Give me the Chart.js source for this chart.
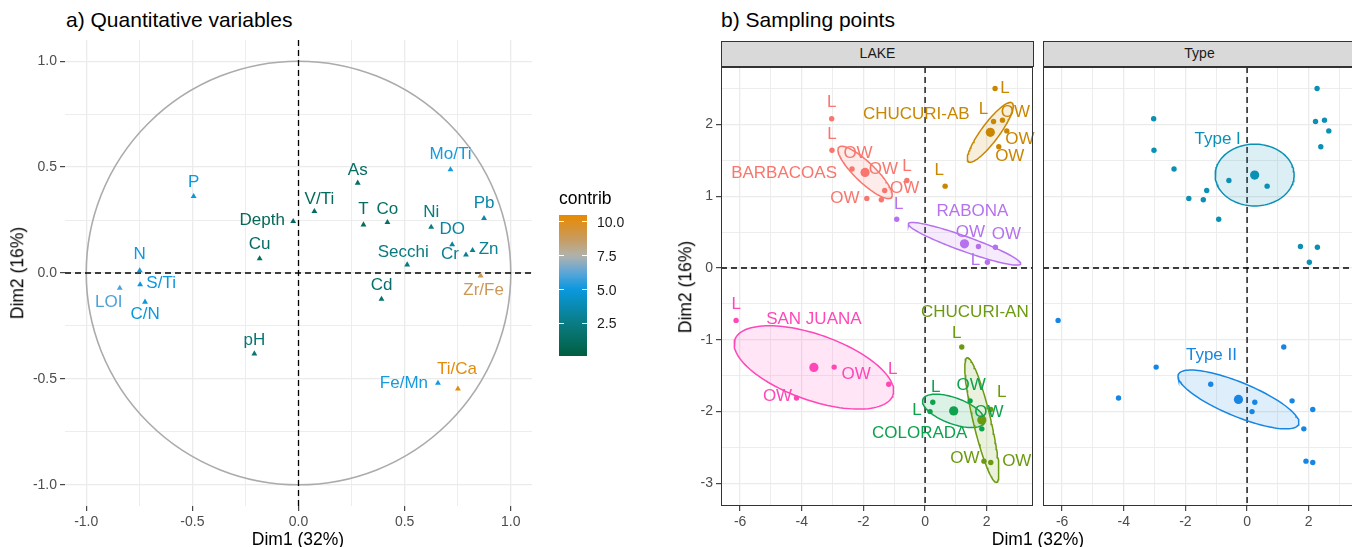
<!DOCTYPE html>
<html>
<head>
<meta charset="utf-8">
<title>PCA - variables and sampling points</title>
<script src="https://cdn.jsdelivr.net/npm/chart.js@4.4.1/dist/chart.umd.min.js"></script>
<style>
  html, body { margin: 0; padding: 0; background: #fff; }
  body { width: 1352px; height: 547px; overflow: hidden; position: relative;
         font-family: "Liberation Sans", Arial, Helvetica, sans-serif; }
  canvas, .txt, .strip, .bar { position: absolute; }
  .txt { white-space: nowrap; color: #000; line-height: 1; }
  .mid { transform: translate(-50%, -50%); }
  .rot { transform: translate(-50%, -50%) rotate(-90deg); }
  .strip { box-sizing: border-box; background: #D9D9D9; border: 1px solid #333;
           color: #1A1A1A; font-size: 14px; line-height: 23px; text-align: center; }
</style>
</head>
<body>
<div class="txt" style="left:66px;top:9px;font-size:21px">a) Quantitative variables</div>
<div class="txt" style="left:721px;top:9px;font-size:21px">b) Sampling points</div>

<canvas id="varChart" width="545" height="547" style="left:0;top:0"></canvas>
<canvas id="lakeChart" width="440" height="547" style="left:600px;top:0"></canvas>
<canvas id="typeChart" width="330" height="547" style="left:1036px;top:0"></canvas>

<div class="strip" style="left:721px;top:41px;width:313px;height:26px">LAKE</div>
<div class="strip" style="left:1043px;top:41px;width:313px;height:26px">Type</div>

<div class="txt mid" style="left:298px;top:540px;font-size:17.5px">Dim1 (32%)</div>
<div class="txt rot" style="left:18px;top:273px;font-size:17.5px">Dim2 (16%)</div>
<div class="txt mid" style="left:1038px;top:540px;font-size:17.5px">Dim1 (32%)</div>
<div class="txt rot" style="left:686px;top:287px;font-size:17.5px">Dim2 (16%)</div>

<div class="txt" style="left:559px;top:190px;font-size:17.5px">contrib</div>
<div id="legend"></div>

<script>
Chart.defaults.font.family = '"Liberation Sans", Arial, Helvetica, sans-serif';
Chart.defaults.animation = false;

// ---- a) variables on the correlation circle ----
const varNames = ['P', 'N', 'S/Ti', 'LOI', 'C/N', 'Depth', 'V/Ti', 'Cu', 'pH', 'As', 'T', 'Co',
                  'Ni', 'DO', 'Cr', 'Zn', 'Pb', 'Mo/Ti', 'Secchi', 'Cd', 'Zr/Fe', 'Fe/Mn', 'Ti/Ca'];
const varDim1 = [-0.494, -0.748, -0.746, -0.842, -0.723, -0.025, 0.075, -0.183, -0.208, 0.279, 0.306, 0.419,
                 0.625, 0.724, 0.789, 0.820, 0.874, 0.716, 0.512, 0.391, 0.858, 0.657, 0.751];
const varDim2 = [0.362, 0.011, -0.055, -0.071, -0.137, 0.244, 0.291, 0.068, -0.381, 0.425, 0.228, 0.239,
                 0.217, 0.134, 0.086, 0.107, 0.258, 0.488, 0.039, -0.123, -0.013, -0.520, -0.547];
const varContrib = [5.0, 5.1, 5.0, 6.0, 5.0, 1.0, 1.1, 1.3, 2.0, 1.4, 1.2, 1.5,
                    2.4, 3.3, 2.8, 3.0, 3.5, 5.2, 2.3, 1.6, 8.9, 5.2, 10.3];
const circleTicks = [-1, -0.5, 0, 0.5, 1];
const contribTicks = [2.5, 5, 7.5, 10];
const contribRange = [0.1, 10.5];

// ---- b) sampling points ----
const lakes = ['BARBACOAS', 'CHUCURI-AB', 'CHUCURI-AN', 'COLORADA', 'RABONA', 'SAN JUANA'];
const lakeType = ['Type I', 'Type I', 'Type II', 'Type II', 'Type I', 'Type II'];
const types = ['Type I', 'Type II'];

const sampleLake = ['BARBACOAS', 'BARBACOAS', 'BARBACOAS', 'BARBACOAS', 'BARBACOAS', 'BARBACOAS', 'BARBACOAS',
                    'CHUCURI-AB', 'CHUCURI-AB', 'CHUCURI-AB', 'CHUCURI-AB', 'CHUCURI-AB', 'CHUCURI-AB',
                    'RABONA', 'RABONA', 'RABONA', 'RABONA',
                    'SAN JUANA', 'SAN JUANA', 'SAN JUANA', 'SAN JUANA',
                    'CHUCURI-AN', 'CHUCURI-AN', 'CHUCURI-AN', 'CHUCURI-AN',
                    'COLORADA', 'COLORADA', 'COLORADA', 'COLORADA'];
const sampleSite = ['L', 'L', 'OW', 'OW', 'L', 'OW', 'OW',
                    'L', 'L', 'OW', 'OW', 'OW', 'L',
                    'L', 'OW', 'OW', 'L',
                    'L', 'OW', 'L', 'OW',
                    'L', 'L', 'OW', 'OW',
                    'L', 'L', 'OW', 'OW'];
const sampleDim1 = [-3.03, -3.02, -2.37, -1.31, -0.59, -1.89, -1.42,
                    2.27, 2.22, 2.51, 2.65, 2.39, 0.65,
                    -0.92, 1.73, 2.28, 2.02,
                    -6.13, -2.95, -1.18, -4.17,
                    1.19, 2.13, 1.91, 2.13,
                    0.25, 0.16, 1.84, 1.46];
const sampleDim2 = [2.08, 1.64, 1.38, 1.08, 1.22, 0.97, 0.95,
                    2.50, 2.04, 2.06, 1.91, 1.69, 1.14,
                    0.68, 0.30, 0.29, 0.08,
                    -0.73, -1.38, -1.62, -1.81,
                    -1.10, -1.97, -2.69, -2.71,
                    -1.87, -2.00, -2.24, -1.85];

// concentration ellipses: two conjugate semi-axes in Dim1/Dim2 units, centred on the group mean
const lakeEllipseA = [[0.85, -0.35], [0.707, 0.41], [0.477, -0.868], [1.0, -0.16], [1.82, -0.28], [2.56, -0.39]];
const lakeEllipseB = [[0.227, 0.10], [0.234, -0.074], [0.278, 0.028], [0.149, 0.169], [0.081, 0.098], [0.363, 0.43]];
const typeEllipseA = [[1.28, 0.0], [1.95, -0.347]];
const typeEllipseB = [[0.0, 0.43], [0.21, 0.218]];

const dimXTicks = [-6, -4, -2, 0, 2];
const dimYTicks = [-3, -2, -1, 0, 1, 2];

// ---- styling ----
const contribStops = [[0.1, '#005E41'], [2.5, '#0A7C83'], [5, '#0A98DE'], [6.3, '#5FA6D8'],
                      [7.5, '#B2B2AC'], [8.8, '#C99A5C'], [10.5, '#E88A00']];
const lakeColors = ['#F8766D', '#C98600', '#6B9A0F', '#0DA24E', '#B672EE', '#FF47B8'];
const typeColors = ['#0A90B4', '#1786E3'];

// pixel nudges for the text labels (kept apart from the values)
const varLabelShift = [[0, -14], [0, -16], [21, -1], [-11, 14], [0, 12], [-31, -1], [5, -12], [0, -14],
                       [0, -13], [0, -13], [0, -15], [0, -13], [0, -15], [0, -15], [-16, 0], [16, -1],
                       [0, -15], [0, -15], [-4, -12], [0, -14], [3, 15], [-34, 0], [-1, -20]];
const sampleLabelShift = [[0, -16], [0, -16], [6, -16], [20, -2], [0, -14], [-22, 0], [2, -31],
                          [10, 0], [-10, -12], [13, -8], [13, 8], [11, 10], [-6, -16],
                          [2, -15], [-8, -14], [11, -13], [-12, -2],
                          [0, -16], [22, 7], [4, -15], [-19, -2],
                          [-5, -14], [11, -17], [-19, -3], [26, -1],
                          [3, -15], [-13, -1], [7, -17], [1, -16]];
const lakeLabelShift = [[-81, 1], [-74, -18], [-7, -108], [-34, 22], [8, -32], [0, -48]];
const typeLabelShift = [[-37, -36], [-27, -44]];

function hexRgb(h) {
  return [parseInt(h.slice(1, 3), 16), parseInt(h.slice(3, 5), 16), parseInt(h.slice(5, 7), 16)];
}
function rgba(h, a) {
  const c = hexRgb(h);
  return `rgba(${c[0]},${c[1]},${c[2]},${a})`;
}
function contribColor(v) {
  let i = 0;
  while (i < contribStops.length - 2 && v > contribStops[i + 1][0]) i++;
  const [v0, c0] = contribStops[i], [v1, c1] = contribStops[i + 1];
  const t = Math.max(0, Math.min(1, (v - v0) / (v1 - v0)));
  const a = hexRgb(c0), b = hexRgb(c1);
  return `rgb(${a.map((x, k) => Math.round(x + (b[k] - x) * t)).join(',')})`;
}

const isMajor = (list, v) => list.some(t => Math.abs(t - v) < 1e-9);

function axis(min, max, gridVals, labelVals, fmt, size, showLabels) {
  return {
    type: 'linear', min, max,
    afterBuildTicks: s => { s.ticks = gridVals.map(v => ({ value: v })); },
    afterFit: s => { if (s.isHorizontal()) s.height = size; else s.width = size; },
    border: { display: false },
    grid: {
      color: '#EBEBEB',
      lineWidth: c => (c.tick && isMajor(labelVals, c.tick.value)) ? 1.3 : 0.9,
      drawTicks: showLabels,
      tickLength: 5,
      tickWidth: 1.1,
      tickColor: c => (c.tick && isMajor(labelVals, c.tick.value)) ? '#333333' : 'rgba(0,0,0,0)'
    },
    ticks: {
      display: showLabels,
      autoSkip: false, maxRotation: 0, padding: 3,
      color: '#4D4D4D', font: { size: 14 },
      callback: v => isMajor(labelVals, v) ? fmt(v) : ''
    }
  };
}

// dashed reference lines through the origin
const originLines = {
  id: 'originLines',
  beforeDatasetsDraw(chart) {
    const { ctx, chartArea: a, scales: { x, y } } = chart;
    const x0 = x.getPixelForValue(0), y0 = y.getPixelForValue(0);
    ctx.save();
    ctx.strokeStyle = '#000';
    ctx.lineWidth = 1.3;
    ctx.setLineDash([6, 4]);
    ctx.beginPath();
    ctx.moveTo(x0, a.top); ctx.lineTo(x0, a.bottom);
    ctx.moveTo(a.left, y0); ctx.lineTo(a.right, y0);
    ctx.stroke();
    ctx.restore();
  }
};

const panelBorder = {
  id: 'panelBorder',
  afterDatasetsDraw(chart) {
    const { ctx, chartArea: a } = chart;
    ctx.save();
    ctx.strokeStyle = '#333333';
    ctx.lineWidth = 1;
    ctx.strokeRect(a.left + 0.5, a.top + 0.5, a.width - 1, a.height - 1);
    ctx.restore();
  }
};

function textLabels(items) {
  return {
    id: 'textLabels',
    afterDatasetsDraw(chart) {
      const { ctx, scales: { x, y } } = chart;
      ctx.save();
      ctx.font = '17px "Liberation Sans", Arial, sans-serif';
      ctx.textAlign = 'center';
      ctx.textBaseline = 'middle';
      items.forEach(it => {
        ctx.fillStyle = it.color;
        ctx.fillText(it.text, x.getPixelForValue(it.x) + it.dx, y.getPixelForValue(it.y) + it.dy);
      });
      ctx.restore();
    }
  };
}

// ---------- a) correlation circle ----------
const unitCircle = {
  id: 'unitCircle',
  beforeDatasetsDraw(chart) {
    const { ctx, scales: { x, y } } = chart;
    const cx = x.getPixelForValue(0), cy = y.getPixelForValue(0);
    ctx.save();
    ctx.strokeStyle = '#ABABAB';
    ctx.lineWidth = 1.6;
    ctx.beginPath();
    ctx.ellipse(cx, cy, x.getPixelForValue(1) - cx, cy - y.getPixelForValue(1), 0, 0, 2 * Math.PI);
    ctx.stroke();
    ctx.restore();
  }
};

const varColors = varContrib.map(contribColor);
const circleGrid = [-1, -0.75, -0.5, -0.25, 0, 0.25, 0.5, 0.75, 1];

new Chart(document.getElementById('varChart'), {
  type: 'scatter',
  data: {
    datasets: [{
      data: varNames.map((n, i) => ({ x: varDim1[i], y: varDim2[i] })),
      pointStyle: 'triangle',
      pointRadius: 3.4,
      borderWidth: 0,
      backgroundColor: varColors
    }]
  },
  options: {
    responsive: false,
    layout: { padding: { top: 40, right: 13, left: 0, bottom: 0 } },
    plugins: { legend: { display: false }, tooltip: { enabled: false } },
    scales: {
      x: axis(-1.1, 1.1, circleGrid, circleTicks, v => v.toFixed(1), 41, true),
      y: axis(-1.1, 1.1, circleGrid, circleTicks, v => v.toFixed(1), 65, true)
    }
  },
  plugins: [unitCircle, originLines, textLabels(varNames.map((n, i) => ({
    text: n, x: varDim1[i], y: varDim2[i], color: varColors[i],
    dx: varLabelShift[i][0], dy: varLabelShift[i][1]
  })))]
});

// contrib colour bar
(function () {
  const top = 215, h = 141, left = 559, w = 28;
  const legend = document.getElementById('legend');
  const ypos = v => top + h * (contribRange[1] - v) / (contribRange[1] - contribRange[0]);
  const stops = [];
  for (let k = 0; k <= 40; k++) {
    const v = contribRange[1] - (contribRange[1] - contribRange[0]) * k / 40;
    stops.push(`${contribColor(v)} ${(k * 2.5).toFixed(1)}%`);
  }
  let html = `<div class="bar" style="left:${left}px;top:${top}px;width:${w}px;height:${h}px;background:linear-gradient(to bottom, ${stops.join(',')})"></div>`;
  contribTicks.forEach(v => {
    const y = ypos(v);
    html += `<div class="bar" style="left:${left}px;top:${y - 0.5}px;width:5px;height:1px;background:#fff"></div>`;
    html += `<div class="bar" style="left:${left + w - 5}px;top:${y - 0.5}px;width:5px;height:1px;background:#fff"></div>`;
    html += `<div class="txt" style="left:597px;top:${y - 7}px;font-size:14px;color:#1A1A1A">${v.toFixed(1)}</div>`;
  });
  legend.innerHTML = html;
})();

// ---------- b) sampling points, one panel per facet ----------
function ellipsePoints(c, a, b) {
  const pts = [];
  for (let k = 0; k <= 120; k++) {
    const t = 2 * Math.PI * k / 120;
    pts.push({ x: c[0] + a[0] * Math.cos(t) + b[0] * Math.sin(t),
               y: c[1] + a[1] * Math.cos(t) + b[1] * Math.sin(t) });
  }
  return pts;
}

function facet(canvasId, groups, groupOfSample, colors, ellA, ellB, groupShift, withSiteLabels, showY, pad) {
  const datasets = [];
  const labels = [];
  groups.forEach((g, gi) => {
    const idx = sampleDim1.map((v, i) => i).filter(i => groupOfSample(i) === g);
    const mean = [idx.reduce((s, i) => s + sampleDim1[i], 0) / idx.length,
                  idx.reduce((s, i) => s + sampleDim2[i], 0) / idx.length];
    const col = colors[gi];
    datasets.push({
      type: 'line', data: ellipsePoints(mean, ellA[gi], ellB[gi]),
      borderColor: col, backgroundColor: rgba(col, 0.14), borderWidth: 1.5,
      pointRadius: 0, tension: 0, fill: 'shape', order: 3
    });
    datasets.push({
      data: idx.map(i => ({ x: sampleDim1[i], y: sampleDim2[i] })),
      pointRadius: 2.7, borderWidth: 0, backgroundColor: col, order: 1
    });
    datasets.push({
      data: [{ x: mean[0], y: mean[1] }],
      pointRadius: 4.6, borderWidth: 0, backgroundColor: col, order: 0
    });
    if (withSiteLabels) {
      idx.forEach(i => labels.push({ text: sampleSite[i], x: sampleDim1[i], y: sampleDim2[i], color: col,
                                     dx: sampleLabelShift[i][0], dy: sampleLabelShift[i][1] }));
    }
    labels.push({ text: g, x: mean[0], y: mean[1], color: col, dx: groupShift[gi][0], dy: groupShift[gi][1] });
  });

  const xGrid = [], yGrid = [];
  for (let v = -6; v <= 3; v++) xGrid.push(v);
  for (let v = -3; v <= 2.5; v += 0.5) yGrid.push(v);

  new Chart(document.getElementById(canvasId), {
    type: 'scatter',
    data: { datasets },
    options: {
      responsive: false,
      layout: { padding: pad },
      plugins: { legend: { display: false }, tooltip: { enabled: false } },
      scales: {
        x: axis(-6.62, 3.5, xGrid, dimXTicks, v => String(v), 41, true),
        y: axis(-3.315, 2.8, yGrid, dimYTicks, v => String(v), showY ? 121 : 0, showY)
      }
    },
    plugins: [originLines, textLabels(labels), panelBorder]
  });
}

facet('lakeChart', lakes, i => sampleLake[i], lakeColors, lakeEllipseA, lakeEllipseB,
      lakeLabelShift, true, true, { top: 67, right: 7, left: 0, bottom: 0 });
facet('typeChart', types, i => lakeType[lakes.indexOf(sampleLake[i])], typeColors, typeEllipseA, typeEllipseB,
      typeLabelShift, false, false, { top: 67, right: 11, left: 7, bottom: 0 });
</script>
</body>
</html>
